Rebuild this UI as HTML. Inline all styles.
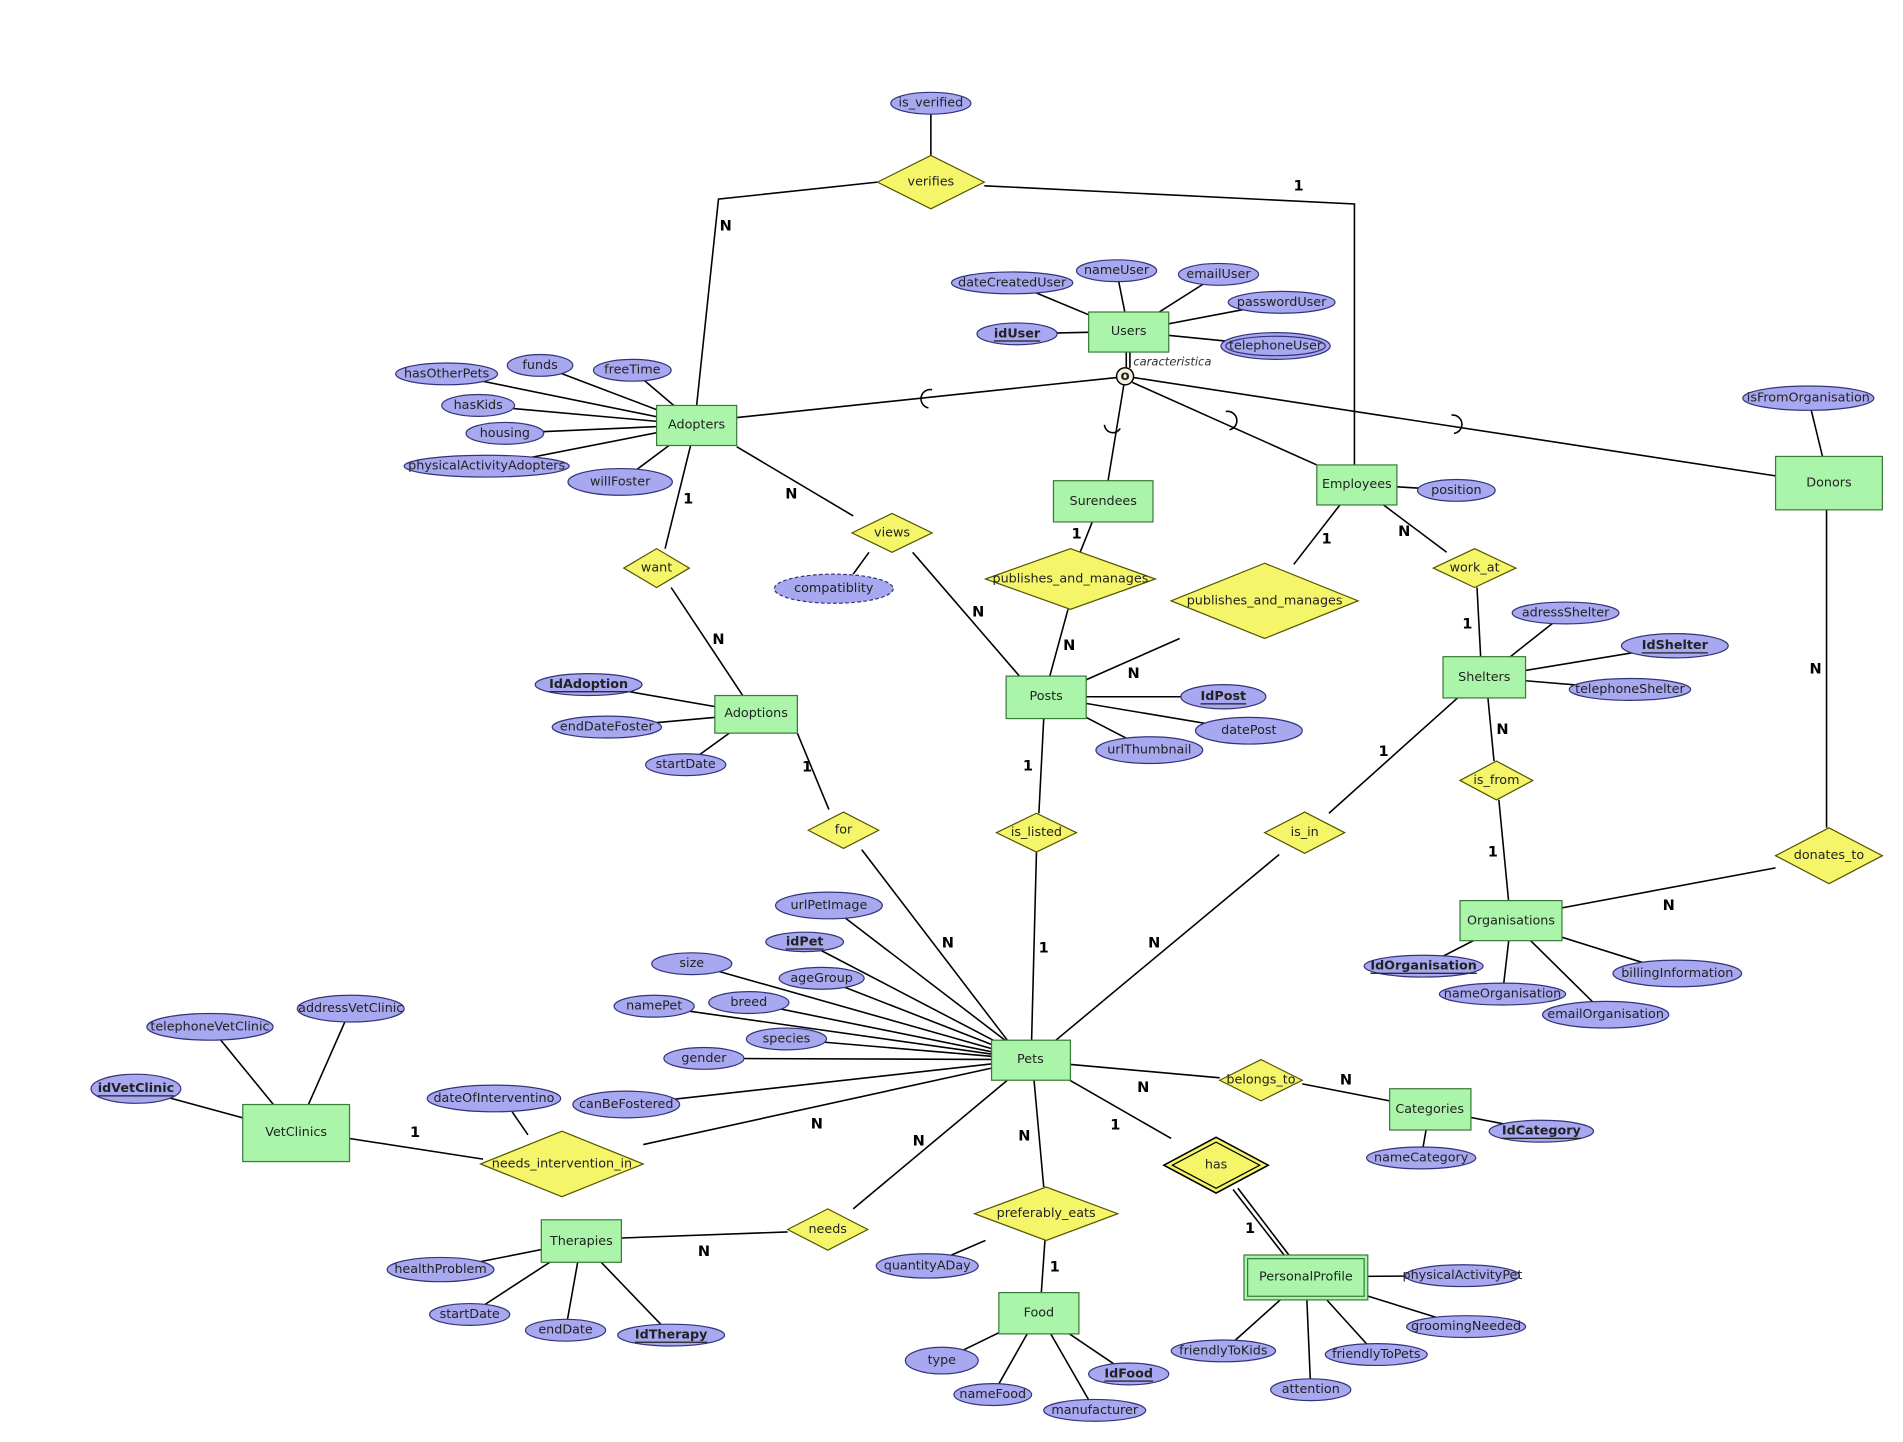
<!DOCTYPE html>
<html><head><meta charset="utf-8"><style>
html,body{margin:0;padding:0;background:#fff;}
svg{display:block}
text{font-family:"DejaVu Sans","Liberation Sans",sans-serif;font-size:10.5px;fill:#222;text-anchor:middle;dominant-baseline:central}
.k{font-weight:bold;text-decoration:underline}
.n{font-weight:bold;font-size:12px;fill:#000}
.e{fill:#aaf5aa;stroke:#3a7a3a;stroke-width:1}
.r{fill:#f5f56a;stroke:#555500;stroke-width:1}
.a{fill:#a8a8f0;stroke:#33337a;stroke-width:1}
.l line,.l polyline{stroke:#000;stroke-width:1.3;fill:none}
</style></head><body>
<svg width="1903" height="1442" viewBox="0 0 1568 1188" xmlns="http://www.w3.org/2000/svg">
<g class="l">
<!-- relationship lines -->
<polyline points="723,150 592,164 574,334"/>
<polyline points="811,153 1116,168 1116,383"/>
<line x1="767" y1="128" x2="767" y2="94"/>
<line x1="607" y1="368" x2="703" y2="425"/>
<line x1="752" y1="455" x2="840" y2="557"/>
<line x1="716" y1="455" x2="703" y2="473"/>
<line x1="569" y1="367" x2="548" y2="452"/>
<line x1="553" y1="484" x2="612" y2="573"/>
<line x1="657" y1="604" x2="683" y2="667"/>
<line x1="710" y1="700" x2="830" y2="857"/>
<line x1="860" y1="592" x2="856" y2="670"/>
<line x1="854" y1="702" x2="850" y2="857"/>
<line x1="900" y1="430" x2="890" y2="455"/>
<line x1="880" y1="502" x2="865" y2="557"/>
<line x1="895" y1="560" x2="972" y2="526"/>
<line x1="1104" y1="416" x2="1066" y2="465"/>
<line x1="1140" y1="416" x2="1192" y2="455"/>
<line x1="1217" y1="484" x2="1220" y2="541"/>
<line x1="1226" y1="575" x2="1231" y2="627"/>
<line x1="1235" y1="659" x2="1243" y2="742"/>
<line x1="1201" y1="575" x2="1095" y2="670"/>
<line x1="1054" y1="704" x2="870" y2="857"/>
<line x1="1505" y1="420" x2="1505" y2="682"/>
<line x1="1463" y1="715" x2="1287" y2="748"/>
<line x1="882" y1="877" x2="1005" y2="888"/>
<line x1="1073" y1="893" x2="1145" y2="907"/>
<line x1="878" y1="888" x2="965" y2="938"/>
<line x1="1016" y1="980" x2="1058" y2="1034"/>
<line x1="1020" y1="979" x2="1062" y2="1034"/>
<line x1="852" y1="890" x2="860" y2="978"/>
<line x1="861" y1="1022" x2="858" y2="1065"/>
<line x1="812" y1="1022" x2="784" y2="1034"/>
<line x1="830" y1="890" x2="703" y2="996"/>
<line x1="649" y1="1015" x2="512" y2="1020"/>
<line x1="817" y1="880" x2="530" y2="943"/>
<line x1="398" y1="955" x2="288" y2="938"/>
<line x1="435" y1="935" x2="422" y2="916"/>
<!-- ISA -->
<line x1="928" y1="290" x2="928" y2="303"/>
<line x1="931" y1="290" x2="931" y2="303"/>
<line x1="920" y1="311" x2="607" y2="344"/>
<line x1="926" y1="317" x2="913" y2="396"/>
<line x1="933" y1="315" x2="1085" y2="383"/>
<line x1="934" y1="311" x2="1463" y2="392"/>
<!-- attribute lines (center to center) -->
<line x1="930" y1="273" x2="834" y2="233"/>
<line x1="930" y1="273" x2="920" y2="223"/>
<line x1="930" y1="273" x2="1004" y2="226"/>
<line x1="930" y1="273" x2="1056" y2="249"/>
<line x1="930" y1="273" x2="838" y2="275"/>
<line x1="930" y1="273" x2="1051" y2="285"/>
<line x1="574" y1="350" x2="368" y2="308"/>
<line x1="574" y1="350" x2="445" y2="301"/>
<line x1="574" y1="350" x2="521" y2="305"/>
<line x1="574" y1="350" x2="394" y2="334"/>
<line x1="574" y1="350" x2="416" y2="357"/>
<line x1="574" y1="350" x2="401" y2="384"/>
<line x1="574" y1="350" x2="511" y2="397"/>
<line x1="1507" y1="398" x2="1490" y2="328"/>
<line x1="1118" y1="399" x2="1200" y2="404"/>
<line x1="623" y1="588" x2="485" y2="564"/>
<line x1="623" y1="588" x2="500" y2="599"/>
<line x1="623" y1="588" x2="565" y2="630"/>
<line x1="862" y1="574" x2="1008" y2="574"/>
<line x1="862" y1="574" x2="1029" y2="602"/>
<line x1="862" y1="574" x2="947" y2="618"/>
<line x1="1223" y1="558" x2="1290" y2="505"/>
<line x1="1223" y1="558" x2="1380" y2="532"/>
<line x1="1223" y1="558" x2="1343" y2="568"/>
<line x1="1245" y1="759" x2="1173" y2="796"/>
<line x1="1245" y1="759" x2="1238" y2="819"/>
<line x1="1245" y1="759" x2="1323" y2="836"/>
<line x1="1245" y1="759" x2="1382" y2="802"/>
<line x1="849" y1="873" x2="683" y2="746"/>
<line x1="849" y1="873" x2="663" y2="776"/>
<line x1="849" y1="873" x2="570" y2="794"/>
<line x1="849" y1="873" x2="677" y2="806"/>
<line x1="849" y1="873" x2="539" y2="829"/>
<line x1="849" y1="873" x2="617" y2="826"/>
<line x1="849" y1="873" x2="648" y2="856"/>
<line x1="849" y1="873" x2="580" y2="872"/>
<line x1="849" y1="873" x2="516" y2="910"/>
<line x1="244" y1="933" x2="173" y2="846"/>
<line x1="244" y1="933" x2="289" y2="831"/>
<line x1="244" y1="933" x2="112" y2="897"/>
<line x1="479" y1="1023" x2="363" y2="1046"/>
<line x1="479" y1="1023" x2="387" y2="1083"/>
<line x1="479" y1="1023" x2="466" y2="1096"/>
<line x1="479" y1="1023" x2="553" y2="1100"/>
<line x1="856" y1="1082" x2="776" y2="1121"/>
<line x1="856" y1="1082" x2="818" y2="1149"/>
<line x1="856" y1="1082" x2="902" y2="1162"/>
<line x1="856" y1="1082" x2="930" y2="1132"/>
<line x1="1178" y1="914" x2="1171" y2="954"/>
<line x1="1178" y1="914" x2="1270" y2="932"/>
<line x1="1076" y1="1052" x2="1205" y2="1051"/>
<line x1="1076" y1="1052" x2="1208" y2="1093"/>
<line x1="1076" y1="1052" x2="1008" y2="1113"/>
<line x1="1076" y1="1052" x2="1134" y2="1116"/>
<line x1="1076" y1="1052" x2="1080" y2="1145"/>
</g>
<!-- subset arcs -->
<g fill="none" stroke="#000" stroke-width="1.3">
<path d="M768,321 A7,7 0 0 0 765,336"/>
<path d="M910,350 A7,7 0 0 0 923,353"/>
<path d="M1010,339 A7,7 0 0 1 1013,354"/>
<path d="M1196,342 A7,7 0 0 1 1198,357"/>
</g>
<circle cx="927" cy="310" r="7" fill="#f3f0dc" stroke="#000" stroke-width="1.2"/>
<text x="927" y="310" style="font-weight:bold;font-size:11px">o</text>
<text x="966" y="298" style="font-style:italic;font-size:9.5px;fill:#333">caracteristica</text>

<!-- entities -->
<rect class="e" x="897" y="257" width="66" height="33"/><text x="930" y="273">Users</text>
<rect class="e" x="541" y="334" width="66" height="33"/><text x="574" y="350">Adopters</text>
<rect class="e" x="868" y="396" width="82" height="34"/><text x="909" y="413">Surendees</text>
<rect class="e" x="1085" y="383" width="66" height="33"/><text x="1118" y="399">Employees</text>
<rect class="e" x="1463" y="376" width="88" height="44"/><text x="1507" y="398">Donors</text>
<rect class="e" x="589" y="573" width="68" height="31"/><text x="623" y="588">Adoptions</text>
<rect class="e" x="829" y="557" width="66" height="35"/><text x="862" y="574">Posts</text>
<rect class="e" x="1189" y="541" width="68" height="34"/><text x="1223" y="558">Shelters</text>
<rect class="e" x="1203" y="742" width="84" height="33"/><text x="1245" y="759">Organisations</text>
<rect class="e" x="817" y="857" width="65" height="33"/><text x="849" y="873">Pets</text>
<rect class="e" x="1145" y="897" width="67" height="34"/><text x="1178" y="914">Categories</text>
<rect class="e" x="200" y="910" width="88" height="47"/><text x="244" y="933">VetClinics</text>
<rect class="e" x="446" y="1005" width="66" height="35"/><text x="479" y="1023">Therapies</text>
<rect class="e" x="823" y="1065" width="66" height="34"/><text x="856" y="1082">Food</text>
<rect class="e" x="1025" y="1034" width="102" height="37"/><rect x="1028" y="1037" width="96" height="31" fill="none" stroke="#3a7a3a"/><text x="1076" y="1052">PersonalProfile</text>

<!-- relationships -->
<polygon class="r" points="723,150 767,128 811,150 767,172"/><text x="767" y="150">verifies</text>
<polygon class="r" points="702,439 735,423 768,439 735,455"/><text x="735" y="439">views</text>
<polygon class="r" points="514,468 541,452 568,468 541,484"/><text x="541" y="468">want</text>
<polygon class="r" points="812,477 882,452 952,477 882,502"/><text x="882" y="477">publishes_and_manages</text>
<polygon class="r" points="965,495 1042,464 1119,495 1042,526"/><text x="1042" y="495">publishes_and_manages</text>
<polygon class="r" points="1181,468 1215,452 1249,468 1215,484"/><text x="1215" y="468">work_at</text>
<polygon class="r" points="1203,643 1233,627 1263,643 1233,659"/><text x="1233" y="643">is_from</text>
<polygon class="r" points="666,684 695,669 724,684 695,699"/><text x="695" y="684">for</text>
<polygon class="r" points="821,686 854,670 887,686 854,702"/><text x="854" y="686">is_listed</text>
<polygon class="r" points="1042,686 1075,669 1108,686 1075,703"/><text x="1075" y="686">is_in</text>
<polygon class="r" points="1463,705 1507,682 1551,705 1507,728"/><text x="1507" y="705">donates_to</text>
<polygon class="r" points="1005,890 1039,873 1073,890 1039,907"/><text x="1039" y="890">belongs_to</text>
<polygon class="r" points="396,959 463,932 530,959 463,986"/><text x="463" y="959">needs_intervention_in</text>
<polygon class="r" points="649,1013 682,996 715,1013 682,1030"/><text x="682" y="1013">needs</text>
<polygon class="r" points="803,1000 862,978 921,1000 862,1022"/><text x="862" y="1000">preferably_eats</text>
<polygon class="r" points="959,960 1002,937 1045,960 1002,983" style="stroke:#000;stroke-width:1.3"/>
<polygon points="966,960 1002,941 1038,960 1002,979" fill="none" stroke="#000"/><text x="1002" y="960">has</text>

<!-- attributes -->
<ellipse class="a" cx="767" cy="85" rx="33" ry="9"/><text x="767" y="85">is_verified</text>
<ellipse class="a" cx="834" cy="233" rx="50" ry="9"/><text x="834" y="233">dateCreatedUser</text>
<ellipse class="a" cx="920" cy="223" rx="33" ry="9"/><text x="920" y="223">nameUser</text>
<ellipse class="a" cx="1004" cy="226" rx="33" ry="9"/><text x="1004" y="226">emailUser</text>
<ellipse class="a" cx="1056" cy="249" rx="44" ry="9"/><text x="1056" y="249">passwordUser</text>
<ellipse class="a" cx="838" cy="275" rx="33" ry="9"/><text x="838" y="275" class="k">idUser</text>
<ellipse class="a" cx="1051" cy="285" rx="45" ry="11"/><ellipse cx="1051" cy="285" rx="41" ry="8" fill="none" stroke="#33337a"/><text x="1051" y="285">telephoneUser</text>
<ellipse class="a" cx="368" cy="308" rx="42" ry="9"/><text x="368" y="308">hasOtherPets</text>
<ellipse class="a" cx="445" cy="301" rx="27" ry="9"/><text x="445" y="301">funds</text>
<ellipse class="a" cx="521" cy="305" rx="32" ry="9"/><text x="521" y="305">freeTime</text>
<ellipse class="a" cx="394" cy="334" rx="30" ry="9"/><text x="394" y="334">hasKids</text>
<ellipse class="a" cx="416" cy="357" rx="32" ry="9"/><text x="416" y="357">housing</text>
<ellipse class="a" cx="401" cy="384" rx="68" ry="9"/><text x="401" y="384">physicalActivityAdopters</text>
<ellipse class="a" cx="511" cy="397" rx="43" ry="11"/><text x="511" y="397">willFoster</text>
<ellipse class="a" cx="1490" cy="328" rx="54" ry="10"/><text x="1490" y="328">isFromOrganisation</text>
<ellipse class="a" cx="1200" cy="404" rx="32" ry="9"/><text x="1200" y="404">position</text>
<ellipse cx="687" cy="485" rx="49" ry="12" fill="#a8a8f0" stroke="#33337a" stroke-dasharray="3,2"/><text x="687" y="485">compatiblity</text>
<ellipse class="a" cx="485" cy="564" rx="44" ry="9"/><text x="485" y="564" class="k">IdAdoption</text>
<ellipse class="a" cx="500" cy="599" rx="45" ry="9"/><text x="500" y="599">endDateFoster</text>
<ellipse class="a" cx="565" cy="630" rx="33" ry="9"/><text x="565" y="630">startDate</text>
<ellipse class="a" cx="1008" cy="574" rx="35" ry="10"/><text x="1008" y="574" class="k">IdPost</text>
<ellipse class="a" cx="1029" cy="602" rx="44" ry="11"/><text x="1029" y="602">datePost</text>
<ellipse class="a" cx="947" cy="618" rx="44" ry="11"/><text x="947" y="618">urlThumbnail</text>
<ellipse class="a" cx="1290" cy="505" rx="44" ry="9"/><text x="1290" y="505">adressShelter</text>
<ellipse class="a" cx="1380" cy="532" rx="44" ry="10"/><text x="1380" y="532" class="k">IdShelter</text>
<ellipse class="a" cx="1343" cy="568" rx="50" ry="9"/><text x="1343" y="568">telephoneShelter</text>
<ellipse class="a" cx="1173" cy="796" rx="49" ry="9"/><text x="1173" y="796" class="k">IdOrganisation</text>
<ellipse class="a" cx="1238" cy="819" rx="52" ry="9"/><text x="1238" y="819">nameOrganisation</text>
<ellipse class="a" cx="1323" cy="836" rx="52" ry="11"/><text x="1323" y="836">emailOrganisation</text>
<ellipse class="a" cx="1382" cy="802" rx="53" ry="11"/><text x="1382" y="802">billingInformation</text>
<ellipse class="a" cx="683" cy="746" rx="44" ry="11"/><text x="683" y="746">urlPetImage</text>
<ellipse class="a" cx="663" cy="776" rx="32" ry="8"/><text x="663" y="776" class="k">idPet</text>
<ellipse class="a" cx="570" cy="794" rx="33" ry="9"/><text x="570" y="794">size</text>
<ellipse class="a" cx="677" cy="806" rx="35" ry="9"/><text x="677" y="806">ageGroup</text>
<ellipse class="a" cx="539" cy="829" rx="33" ry="9"/><text x="539" y="829">namePet</text>
<ellipse class="a" cx="617" cy="826" rx="33" ry="9"/><text x="617" y="826">breed</text>
<ellipse class="a" cx="648" cy="856" rx="33" ry="9"/><text x="648" y="856">species</text>
<ellipse class="a" cx="580" cy="872" rx="33" ry="9"/><text x="580" y="872">gender</text>
<ellipse class="a" cx="516" cy="910" rx="44" ry="11"/><text x="516" y="910">canBeFostered</text>
<ellipse class="a" cx="173" cy="846" rx="52" ry="11"/><text x="173" y="846">telephoneVetClinic</text>
<ellipse class="a" cx="289" cy="831" rx="44" ry="11"/><text x="289" y="831">addressVetClinic</text>
<ellipse class="a" cx="112" cy="897" rx="37" ry="12"/><text x="112" y="897" class="k">idVetClinic</text>
<ellipse class="a" cx="407" cy="905" rx="55" ry="11"/><text x="407" y="905">dateOfInterventino</text>
<ellipse class="a" cx="363" cy="1046" rx="44" ry="10"/><text x="363" y="1046">healthProblem</text>
<ellipse class="a" cx="387" cy="1083" rx="33" ry="9"/><text x="387" y="1083">startDate</text>
<ellipse class="a" cx="466" cy="1096" rx="33" ry="9"/><text x="466" y="1096">endDate</text>
<ellipse class="a" cx="553" cy="1100" rx="44" ry="9"/><text x="553" y="1100" class="k">IdTherapy</text>
<ellipse class="a" cx="764" cy="1043" rx="42" ry="10"/><text x="764" y="1043">quantityADay</text>
<ellipse class="a" cx="776" cy="1121" rx="30" ry="11"/><text x="776" y="1121">type</text>
<ellipse class="a" cx="818" cy="1149" rx="32" ry="9"/><text x="818" y="1149">nameFood</text>
<ellipse class="a" cx="902" cy="1162" rx="42" ry="9"/><text x="902" y="1162">manufacturer</text>
<ellipse class="a" cx="930" cy="1132" rx="33" ry="9"/><text x="930" y="1132" class="k">IdFood</text>
<ellipse class="a" cx="1171" cy="954" rx="45" ry="9"/><text x="1171" y="954">nameCategory</text>
<ellipse class="a" cx="1270" cy="932" rx="43" ry="9"/><text x="1270" y="932" class="k">IdCategory</text>
<ellipse class="a" cx="1205" cy="1051" rx="47" ry="9"/><text x="1205" y="1051">physicalActivityPet</text>
<ellipse class="a" cx="1208" cy="1093" rx="49" ry="9"/><text x="1208" y="1093">groomingNeeded</text>
<ellipse class="a" cx="1008" cy="1113" rx="43" ry="9"/><text x="1008" y="1113">friendlyToKids</text>
<ellipse class="a" cx="1134" cy="1116" rx="42" ry="9"/><text x="1134" y="1116">friendlyToPets</text>
<ellipse class="a" cx="1080" cy="1145" rx="33" ry="9"/><text x="1080" y="1145">attention</text>

<!-- cardinalities -->
<text class="n" x="598" y="186">N</text>
<text class="n" x="1070" y="153">1</text>
<text class="n" x="652" y="407">N</text>
<text class="n" x="806" y="504">N</text>
<text class="n" x="567" y="411">1</text>
<text class="n" x="592" y="527">N</text>
<text class="n" x="665" y="632">1</text>
<text class="n" x="781" y="777">N</text>
<text class="n" x="847" y="631">1</text>
<text class="n" x="860" y="781">1</text>
<text class="n" x="887" y="440">1</text>
<text class="n" x="881" y="532">N</text>
<text class="n" x="934" y="555">N</text>
<text class="n" x="1093" y="444">1</text>
<text class="n" x="1157" y="438">N</text>
<text class="n" x="1209" y="514">1</text>
<text class="n" x="1238" y="601">N</text>
<text class="n" x="1230" y="702">1</text>
<text class="n" x="1140" y="619">1</text>
<text class="n" x="951" y="777">N</text>
<text class="n" x="1496" y="551">N</text>
<text class="n" x="1375" y="746">N</text>
<text class="n" x="942" y="896">N</text>
<text class="n" x="1109" y="890">N</text>
<text class="n" x="919" y="927">1</text>
<text class="n" x="1030" y="1012">1</text>
<text class="n" x="844" y="936">N</text>
<text class="n" x="869" y="1044">1</text>
<text class="n" x="757" y="940">N</text>
<text class="n" x="580" y="1031">N</text>
<text class="n" x="673" y="926">N</text>
<text class="n" x="342" y="933">1</text>
</svg>
</body></html>
